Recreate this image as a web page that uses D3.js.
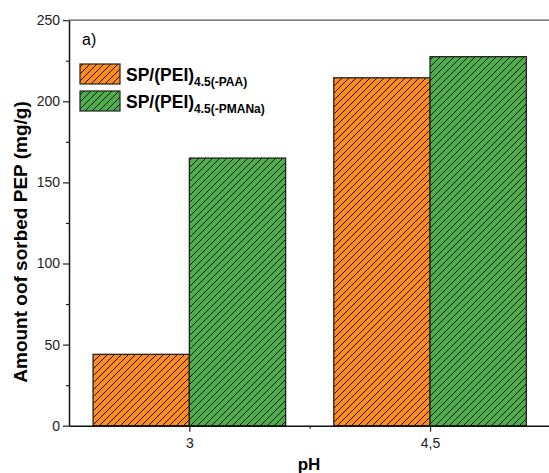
<!DOCTYPE html>
<html lang="en">
<head>
<meta charset="utf-8">
<title>Amount of sorbed PEP vs pH</title>
<script src="https://cdn.jsdelivr.net/npm/d3@7"></script>
<style>
	body { margin: 0; background: #fff; }
	svg { display: block; font-family: "Liberation Sans", Arial, sans-serif; }
</style>
</head>
<body>
<div id="chart"></div>
<script>
// data
var categories = ["3", "4,5"];
var seriesNames = ["SP/(PEI)", "SP/(PEI)"];
var seriesSubs = ["4.5(-PAA)", "4.5(-PMANa)"];
var seriesColors = ["#ff8c1a", "#4caf4a"];
var paaValues = [44, 214.5];
var pmanaValues = [165, 227.5];
var yTicks = [0, 50, 100, 150, 200, 250];
var yMinor = [25, 75, 125, 175, 225];

var w = 549, h = 473;
var plotL = 69, plotR = 550.4, plotT = 20.2, plotB = 425.7;

var svg = d3.select("#chart").append("svg")
	.attr("width", w)
	.attr("height", h);

// hatch patterns, one per colour
var defs = svg.append("defs");
seriesColors.forEach(function(c, i) {
	var p = defs.append("pattern")
		.attr("id", "hatch" + i)
		.attr("patternUnits", "userSpaceOnUse")
		.attr("width", 7)
		.attr("height", 7);
	p.append("rect").attr("width", 7).attr("height", 7).attr("fill", c);
	p.append("path")
		.attr("d", "M0,7 L7,0 M-1,1 L1,-1 M6,8 L8,6")
		.attr("stroke", "#111")
		.attr("stroke-width", 1);
});

var x = d3.scaleLinear().domain([-0.5, 1.5]).range([plotL, plotR]);
var y = d3.scaleLinear().domain([0, 250]).range([plotB, plotT]);
var barW = 0.4;

var series = [paaValues, pmanaValues];

// bars
series.forEach(function(vals, s) {
	svg.selectAll(".bar" + s)
		.data(vals)
		.enter()
		.append("rect")
		.attr("class", "bar" + s)
		.attr("x", function(d, i) { return s == 0 ? x(i - barW) : x(i); })
		.attr("y", function(d) { return y(d); })
		.attr("width", function(d, i) { return x(i + barW) - x(i); })
		.attr("height", function(d) { return y(0) - y(d); })
		.attr("fill", "url(#hatch" + s + ")")
		.attr("stroke", "#222")
		.attr("stroke-width", 1.3);
});

// frame top line (plot goes past the right edge)
svg.append("line")
	.attr("x1", plotL).attr("x2", w + 5)
	.attr("y1", plotT).attr("y2", plotT)
	.attr("stroke", "#555").attr("stroke-width", 1.3);

// y axis
svg.append("g")
	.attr("transform", "translate(" + plotL + ",0)")
	.call(d3.axisLeft(y).tickValues(yTicks).tickSize(6).tickSizeOuter(0).tickPadding(3));
svg.append("g")
	.attr("transform", "translate(" + plotL + ",0)")
	.call(d3.axisLeft(y).tickValues(yMinor).tickSize(3).tickFormat(""))
	.select(".domain").remove();

// x axis
svg.append("g")
	.attr("transform", "translate(0," + plotB + ")")
	.call(d3.axisBottom(x).tickValues([0, 1]).tickSize(6).tickSizeOuter(0).tickPadding(6)
		.tickFormat(function(d) { return categories[d]; }));
svg.append("g")
	.attr("transform", "translate(0," + plotB + ")")
	.call(d3.axisBottom(x).tickValues([0.5]).tickSize(3).tickFormat(""))
	.select(".domain").remove();

svg.selectAll(".domain").attr("stroke", "#111").attr("stroke-width", 1.5);
svg.selectAll(".tick line").attr("stroke", "#222").attr("stroke-width", 1.2);
svg.selectAll(".tick text")
	.style("font-size", "14px")
	.style("font-family", "'Liberation Sans', Arial, sans-serif")
	.attr("fill", "#222");

// axis titles
svg.append("text")
	.attr("x", 309).attr("y", 470)
	.attr("text-anchor", "middle")
	.style("font-size", "17px").style("font-weight", "bold")
	.text("pH");

svg.append("text")
	.attr("transform", "translate(27,242) rotate(-90)")
	.attr("text-anchor", "middle")
	.style("font-size", "19px").style("font-weight", "bold")
	.text("Amount oof sorbed PEP (mg/g)");

// panel letter
svg.append("text")
	.attr("x", 82).attr("y", 45)
	.style("font-size", "16px")
	.text("a)");

// legend
seriesNames.forEach(function(n, i) {
	var ly = 64 + i * 27;
	svg.append("rect")
		.attr("x", 80).attr("y", ly)
		.attr("width", 40).attr("height", 20)
		.attr("fill", "url(#hatch" + i + ")")
		.attr("stroke", "#222").attr("stroke-width", 1.2);
	var t = svg.append("text")
		.attr("x", 126).attr("y", ly + 17)
		.style("font-weight", "bold").style("font-size", "17.5px");
	t.append("tspan").text(n);
	t.append("tspan").attr("dy", 5).style("font-size", "12px").text(seriesSubs[i]);
});
</script>
</body>
</html>
